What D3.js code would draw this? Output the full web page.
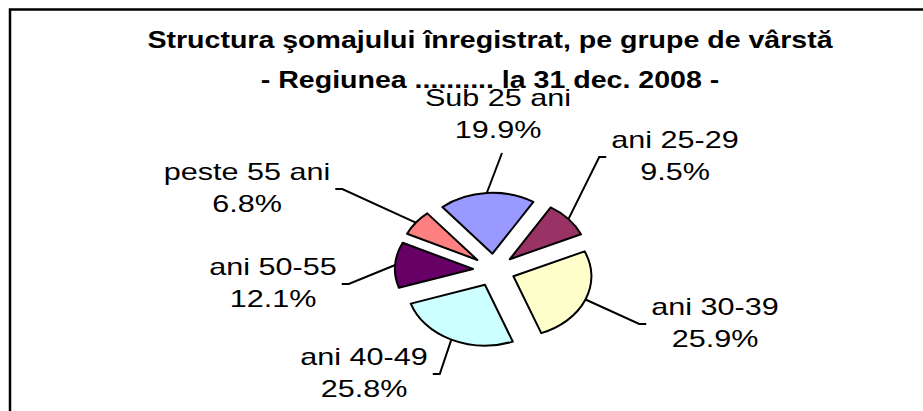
<!DOCTYPE html>
<meta charset="utf-8">
<style>
body { margin: 0; background: #fff; }
svg { display: block; }
.title { font-family: "Liberation Sans", Arial, sans-serif; font-weight: bold; font-size: 24px; }
.label { font-family: "Liberation Sans", Arial, sans-serif; font-size: 23px; }
.slice { stroke: #000; stroke-width: 2px; stroke-linejoin: round; }
.leader { fill: none; stroke: #000; stroke-width: 2px; }
</style>
<svg></svg>
<script src="https://cdn.jsdelivr.net/npm/d3@7"></script>
<script>

var titleLines = ["Structura şomajului înregistrat, pe grupe de vârstă",
                  "- Regiunea .......... la 31 dec. 2008 -"];

var categories = ["Sub 25 ani", "ani 25-29", "ani 30-39", "ani 40-49", "ani 50-55", "peste 55 ani"];
var shares = [19.9, 9.5, 25.9, 25.8, 12.1, 6.8];
var colors = ["#9999FF", "#993366", "#FFFFCC", "#CCFFFF", "#660066", "#FF8080"];

// hand placed label spots, like the original (first line baseline, centre)
var labelSpots = [[498, 106], [675, 148], [715, 315], [364, 365], [273, 275], [247, 180]];

var width = 923,
    height = 411,
    cx = 494, cy = 270,
    r = 78,
    tilt = 0.78,
    explode = 21,
    stretch = 1.33;

var svg = d3.select("svg")
    .attr("width", width)
    .attr("height", height);

// frame (only top and left edges are inside the picture)
svg.append("path")
    .attr("d", "M10," + height + "V9.5H" + width)
    .attr("fill", "none")
    .attr("stroke", "#000")
    .attr("stroke-width", 2.5);

svg.selectAll(".title")
    .data(titleLines)
  .enter().append("text")
    .attr("class", "title")
    .attr("text-anchor", "middle")
    .attr("transform", function(d, i) { return "translate(490," + (48 + i * 40) + ") scale(1.19,1)"; })
    .text(function(d) { return d; });

var pie = d3.pie()
    .sort(null)
    .startAngle(-40 * Math.PI / 180)
    .endAngle(320 * Math.PI / 180);

var arc = d3.arc()
    .innerRadius(0)
    .outerRadius(r);

var arcs = pie(shares);

var mid = function(d) { return (d.startAngle + d.endAngle) / 2; };

var pieG = svg.append("g")
    .attr("transform", "translate(" + cx + "," + cy + ") scale(1," + tilt + ")");

pieG.selectAll(".slice")
    .data(arcs)
  .enter().append("path")
    .attr("class", "slice")
    .attr("vector-effect", "non-scaling-stroke")
    .attr("fill", function(d, i) { return colors[i]; })
    .attr("transform", function(d) {
      var a = mid(d);
      return "translate(" + (explode * Math.sin(a)) + "," + (-explode * Math.cos(a)) + ")";
    })
    .attr("d", arc);

// labels
var labels = svg.selectAll(".label")
    .data(arcs)
  .enter().append("text")
    .attr("class", "label")
    .attr("text-anchor", "middle")
    .attr("transform", function(d, i) { return "translate(" + labelSpots[i][0] + "," + labelSpots[i][1] + ") scale(" + stretch + ",1)"; });

labels.append("tspan")
    .attr("x", 0)
    .text(function(d, i) { return categories[i]; });

labels.append("tspan")
    .attr("x", 0)
    .attr("dy", 32)
    .text(function(d) { return d3.format(".1f")(d.data) + "%"; });

// leader lines from slice edge to label
labels.each(function(d, i) {
  var a = mid(d),
      x0 = cx + (explode + r) * Math.sin(a),
      y0 = cy - (explode + r) * Math.cos(a) * tilt,
      lx = labelSpots[i][0], ly = labelSpots[i][1],
      w = 0;
  d3.select(this).selectAll("tspan").each(function() { w = Math.max(w, this.getComputedTextLength()); });
  w *= stretch;
  var pts;
  if (Math.abs(lx - cx) < 40) {
    pts = [[x0, y0], [lx + 4, ly + 47]];
  } else if (lx > cx) {
    var ex = lx - w / 2 - 5, ey = ly + 9;
    pts = [[x0, y0], [ex - 7, ey], [ex, ey]];
  } else {
    var ex2 = lx + w / 2 + 5, ey2 = ly + 9;
    pts = [[x0, y0], [ex2 + 7, ey2], [ex2, ey2]];
  }
  svg.append("path")
      .attr("class", "leader")
      .attr("d", d3.line()(pts));
});

</script>
